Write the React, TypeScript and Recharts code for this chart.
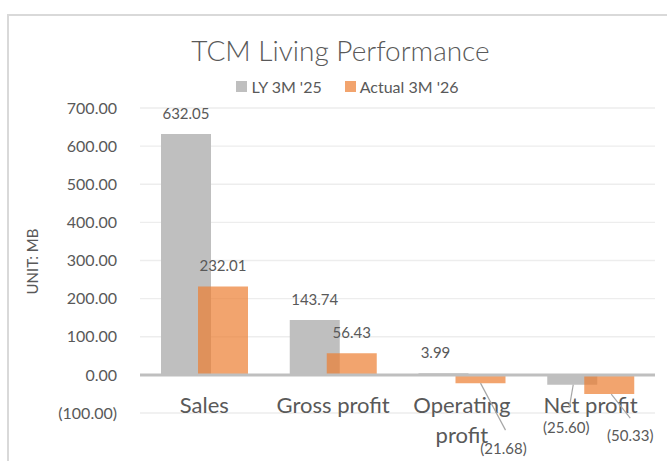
import { BarChart, Bar, XAxis, YAxis, CartesianGrid, ReferenceLine, Legend, LabelList } from 'recharts'

const categories = ['Sales', 'Gross profit', 'Operating profit', 'Net profit']
const lastYear = [632.05, 143.74, 3.99, -25.6]
const actual = [232.01, 56.43, -21.68, -50.33]
const yTicks = [-100, 0, 100, 200, 300, 400, 500, 600, 700]
const seriesOrder = ['ly', 'actual']

const data = categories.map((category, i) => ({ category, ly: lastYear[i], actual: actual[i] }))

const TEXT = '#595959'
const GRAY = '#BFBFBF'
const ORANGE = '#ED7D31'

// leader-line callouts for the negative labels (Excel "best fit" placement)
const callouts: Record<string, { x1: number; x2: number; y2: number; lx: number; ly: number; dx?: number }> = {
  'ly-2': { x1: 0, x2: 0, y2: 0, lx: 0, ly: 0, dx: -8 },
  'actual-2': { x1: 0, x2: 25, y2: 47, lx: 23, ly: 65 },
  'ly-3': { x1: 1, x2: -3, y2: 23, lx: -6, ly: 42 },
  'actual-3': { x1: 2, x2: 21, y2: 24, lx: 21, ly: 41 },
}

const fmt = (v: number) => (v < 0 ? `(${Math.abs(v).toFixed(2)})` : v.toFixed(2))

const makeLabel = (series: string) => (props: any) => {
  const vb = props.viewBox ?? props
  const x = Number(vb.x)
  const y = Number(vb.y)
  const w = Number(vb.width)
  const h = Number(vb.height)
  const value = Number(props.value)
  const cx = x + w / 2
  const top = Math.min(y, y + h)
  const bottom = Math.max(y, y + h)
  const c = callouts[`${series}-${props.index}`]
  const style = { fill: TEXT, fontSize: 15 }

  if (value >= 0) {
    return (
      <text x={cx + (c?.dx ?? 0)} y={top - 21} textAnchor="middle" dominantBaseline="central" style={style}>
        {fmt(value)}
      </text>
    )
  }
  const cc = c ?? { x1: 0, x2: 0, y2: 0, lx: 0, ly: 18 }
  return (
    <g>
      {cc.y2 > 0 && (
        <line x1={cx + cc.x1} y1={bottom} x2={cx + cc.x2} y2={bottom + cc.y2} stroke="#A6A6A6" strokeWidth={1.2} />
      )}
      <text x={cx + cc.lx} y={bottom + cc.ly} textAnchor="middle" dominantBaseline="central" style={style}>
        {fmt(value)}
      </text>
    </g>
  )
}

// long category names wrap onto a second line, like Excel does
const wrapLabel = (s: string) => {
  if (s.length <= 12) return [s]
  const cut = s.lastIndexOf(' ')
  return [s.slice(0, cut), s.slice(cut + 1)]
}

const CategoryTick = (props: any) => {
  const { x, y, payload } = props
  const lines = wrapLabel(String(payload.value))
  return (
    <text x={x} y={y} textAnchor="middle" style={{ fill: TEXT, fontSize: 22 }}>
      {lines.map((line, i) => (
        <tspan key={i} x={x} y={y + i * 30}>
          {line}
        </tspan>
      ))}
    </text>
  )
}

const LegendContent = ({ payload }: any) => {
  const items = [...(payload ?? [])].sort(
    (a: any, b: any) => seriesOrder.indexOf(a.dataKey) - seriesOrder.indexOf(b.dataKey)
  )
  return (
    <div style={{ display: 'flex', justifyContent: 'center', gap: 23, fontSize: 16, color: TEXT, lineHeight: '19px' }}>
      {items.map((item: any) => (
        <span key={item.value} style={{ display: 'flex', alignItems: 'center' }}>
          <span
            style={{
              width: 11,
              height: 11,
              background: item.color,
              opacity: item.payload?.fillOpacity ?? 1,
              marginRight: 4,
              display: 'inline-block',
            }}
          />
          {item.value}
        </span>
      ))}
    </div>
  )
}

export default function App() {
  return (
    <div style={{ position: 'absolute', left: 0, top: 0, width: 667, height: 461, overflow: 'hidden', fontFamily: 'Lato, sans-serif', background: '#fff' }}>
      <div style={{ position: 'absolute', left: 7, top: 14, width: 700, height: 500, border: '2px solid #D9D9D9' }} />
      <div style={{ position: 'absolute', left: 7, top: 35, width: 667, textAlign: 'center', fontSize: 28, fontWeight: 300, color: TEXT, lineHeight: '30px' }}>
        TCM Living Performance
      </div>
      <div style={{ position: 'absolute', left: 0, top: 0 }}>
        <BarChart width={667} height={461} data={data} margin={{ top: 108, right: 12, bottom: 18, left: 0 }} barSize={50} barGap={-13}>
          <CartesianGrid vertical={false} stroke="#EDEDED" strokeWidth={1.3} />
          <XAxis dataKey="category" axisLine={false} tickLine={false} tickSize={0} tickMargin={0} height={30} tick={<CategoryTick />} interval={0} />
          <YAxis
            width={140}
            domain={[-100, 700]}
            ticks={yTicks}
            tickFormatter={fmt}
            axisLine={false}
            tickLine={false}
            tickSize={0}
            tickMargin={23}
            tick={{ fill: TEXT, fontSize: 16 }}
            label={{
              content: (p: any) => (
                <text
                  x={32}
                  y={p.viewBox.y + p.viewBox.height / 2 + 1}
                  transform={`rotate(-90 32 ${p.viewBox.y + p.viewBox.height / 2 + 1})`}
                  textAnchor="middle"
                  dominantBaseline="central"
                  style={{ fill: TEXT, fontSize: 15 }}
                >
                  UNIT: MB
                </text>
              ),
            }}
          />
          <Legend verticalAlign="middle" align="center" content={<LegendContent />} wrapperStyle={{ top: 77, left: 14, width: 667 }} />
          <Bar dataKey="ly" name="LY 3M '25" fill={GRAY} isAnimationActive={false}>
            <LabelList dataKey="ly" content={makeLabel('ly')} />
          </Bar>
          <Bar dataKey="actual" name="Actual 3M '26" fill={ORANGE} fillOpacity={0.7} isAnimationActive={false}>
            <LabelList dataKey="actual" content={makeLabel('actual')} />
          </Bar>
          <ReferenceLine y={0} stroke={GRAY} strokeWidth={3} />
        </BarChart>
      </div>
    </div>
  )
}
